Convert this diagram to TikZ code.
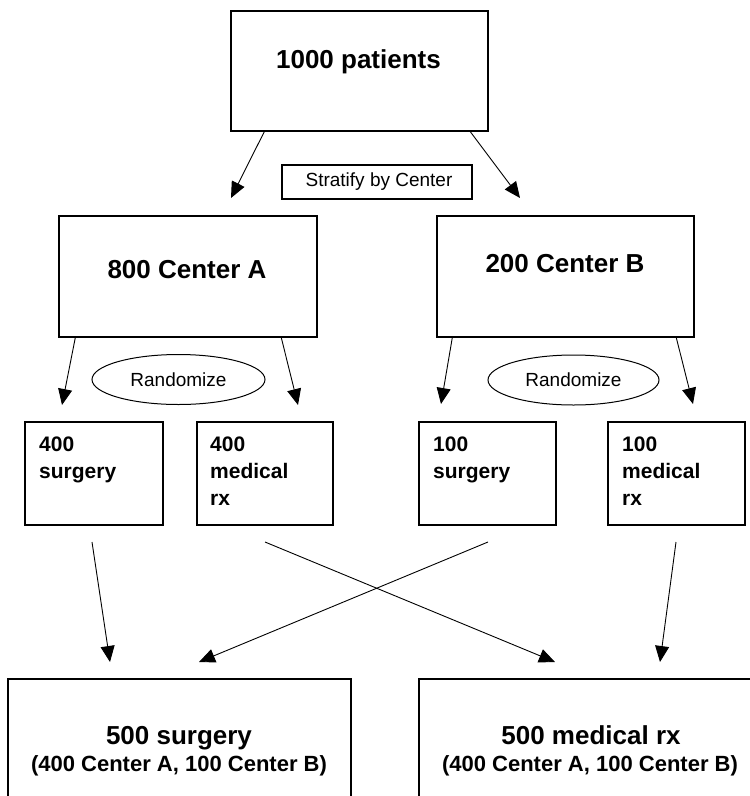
\documentclass[tikz,border=0pt]{standalone}
\usepackage{fontspec}
\setmainfont{Liberation Sans}
\usetikzlibrary{arrows.meta,shapes.geometric,calc}
\begin{document}
\begin{tikzpicture}[x=1pt,y=-1pt,
  box/.style={draw,line width=1.4pt,rectangle,inner sep=0pt},
  oval/.style={draw,line width=1pt,ellipse,inner sep=0pt},
  big/.style={font=\fontsize{26}{30}\selectfont\bfseries,anchor=base,inner sep=0pt},
  mid/.style={font=\fontsize{21}{25}\selectfont\bfseries,anchor=base west,inner sep=0pt},
  sub/.style={font=\fontsize{22}{26}\selectfont\bfseries,anchor=base,inner sep=0pt},
  plain/.style={font=\fontsize{19}{23}\selectfont,inner sep=0pt},
  conn/.style={line width=0.9pt,-{Triangle[length=16pt,width=14pt]}}
]
\useasboundingbox (0,0) rectangle (750,796);

% boxes
\node[box,minimum width=257pt,minimum height=120pt] (top) at (359.5,71) {};
\node[box,minimum width=190pt,minimum height=34pt] (strat) at (377,182) {};
\node[box,minimum width=258pt,minimum height=121pt] (A) at (188,276.5) {};
\node[box,minimum width=257pt,minimum height=121pt] (B) at (565.5,276.5) {};
\node[oval,minimum width=173pt,minimum height=50pt] (rA) at (178.5,379.5) {};
\node[oval,minimum width=171pt,minimum height=50pt] (rB) at (573.5,380) {};
\node[box,minimum width=138pt,minimum height=103pt] (s1) at (94,473.5) {};
\node[box,minimum width=136pt,minimum height=103pt] (m1) at (265,473.5) {};
\node[box,minimum width=137pt,minimum height=103pt] (s2) at (487.5,473.5) {};
\node[box,minimum width=137pt,minimum height=103pt] (m2) at (676.5,473.5) {};
\node[box,minimum width=343pt,minimum height=151pt] (S) at (179.5,754.5) {};
\node[box,minimum width=371pt,minimum height=151pt] (M) at (604.5,754.5) {};

% texts
\node[big] (ttop) at (358.5,68) {1000 patients};
\node[plain] (tstrat) at (379,182) {Stratify by Center};
\node[big] (tA) at (187,278) {800 Center A};
\node[big] (tB) at (565,272) {200 Center B};
\node[plain] (trA) at (rA.center) {Randomize};
\node[plain] (trB) at (rB.center) {Randomize};

\node[mid] (s1a) at (39,451) {400};
\node[mid] (s1b) at (39,478) {surgery};
\node[mid] (m1a) at (210,451) {400};
\node[mid] (m1b) at (210,478) {medical};
\node[mid] (m1c) at (210,505) {rx};
\node[mid] (s2a) at (433,451) {100};
\node[mid] (s2b) at (433,478) {surgery};
\node[mid] (m2a) at (622,451) {100};
\node[mid] (m2b) at (622,478) {medical};
\node[mid] (m2c) at (622,505) {rx};

\node[big] (tS1) at (179,744) {500 surgery};
\node[sub] (tS2) at (179,771) {(400 Center A, 100 Center B)};
\node[big] (tM1) at (591,744) {500 medical rx};
\node[sub] (tM2) at (590,771) {(400 Center A, 100 Center B)};

% free arrow ends
\coordinate (e1) at (231,198);
\coordinate (e2) at (520,198);
\coordinate (eA1) at (62,405);
\coordinate (eA2) at (298,405);
\coordinate (eB1) at (441,404);
\coordinate (eB2) at (693,404);
\coordinate (b1s) at (92,542);
\coordinate (b2s) at (265,542);
\coordinate (b3s) at (488,542);
\coordinate (b4s) at (676,542);
\coordinate (b1e) at (110,662);
\coordinate (b2e) at (555,662);
\coordinate (b3e) at (199,662);
\coordinate (b4e) at (660,662);

% connectors
\draw[conn] ($(top.south west)+(34,0)$) -- (e1);
\draw[conn] ($(top.south west)+(240,0)$) -- (e2);
\draw[conn] ($(A.south west)+(17,0)$) -- (eA1);
\draw[conn] ($(A.south west)+(223,0)$) -- (eA2);
\draw[conn] ($(B.south west)+(16,0)$) -- (eB1);
\draw[conn] ($(B.south west)+(240,0)$) -- (eB2);
\draw[conn] (b1s) -- (b1e);
\draw[conn] (b2s) -- (b2e);
\draw[conn] (b3s) -- (b3e);
\draw[conn] (b4s) -- (b4e);
\end{tikzpicture}
\end{document}
